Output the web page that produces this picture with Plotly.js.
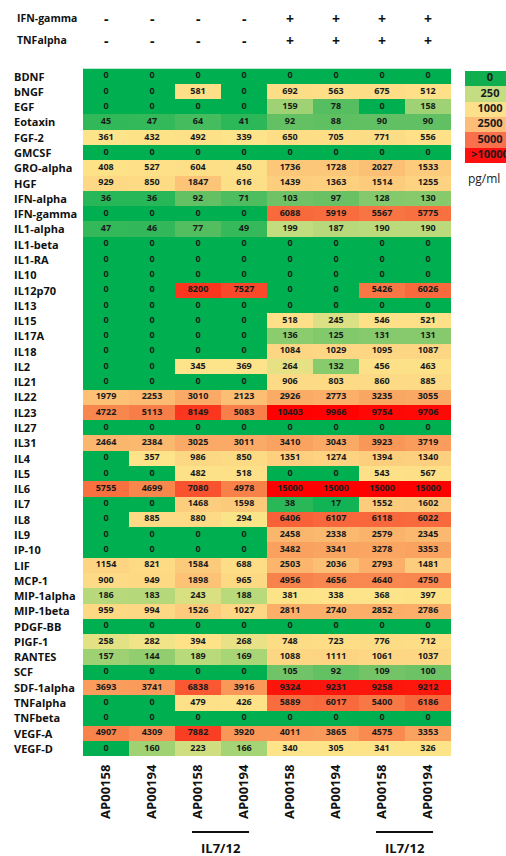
<!DOCTYPE html>
<html>
<head>
<meta charset="utf-8">
<script src="https://cdn.plot.ly/plotly-3.0.1.min.js"></script>
<style>html,body{margin:0;padding:0;background:#fff;}#chart{width:506px;height:856px;}</style>
</head>
<body>
<div id="chart"></div>
<script>
// Row (analyte) names, top to bottom
const analytes = ['BDNF','bNGF','EGF','Eotaxin','FGF-2','GMCSF','GRO-alpha','HGF','IFN-alpha','IFN-gamma',
  'IL1-alpha','IL1-beta','IL1-RA','IL10','IL12p70','IL13','IL15','IL17A','IL18','IL2','IL21','IL22','IL23',
  'IL27','IL31','IL4','IL5','IL6','IL7','IL8','IL9','IP-10','LIF','MCP-1','MIP-1alpha','MIP-1beta','PDGF-BB',
  'PIGF-1','RANTES','SCF','SDF-1alpha','TNFalpha','TNFbeta','VEGF-A','VEGF-D'];

// Column sample labels
const sampleLabels = ['AP00158','AP00194','AP00158','AP00194','AP00158','AP00194','AP00158','AP00194'];
const ifnGammaSigns = ['-','-','-','-','+','+','+','+'];
const tnfAlphaSigns = ['-','-','-','-','+','+','+','+'];
const groupLabel = 'IL7/12';
const groupColumns = [[2,3],[6,7]];

// Values (pg/ml), one array per column
const col1 = [0,0,0,45,361,0,408,929,36,0,47,0,0,0,0,0,0,0,0,0,0,1979,4722,0,2464,0,0,5755,0,0,0,0,1154,900,186,959,0,258,157,0,3693,0,0,4907,0];
const col2 = [0,0,0,47,432,0,527,850,36,0,46,0,0,0,0,0,0,0,0,0,0,2253,5113,0,2384,357,0,4699,0,885,0,0,821,949,183,994,0,282,144,0,3741,0,0,4309,160];
const col3 = [0,581,0,64,492,0,604,1847,92,0,77,0,0,0,8200,0,0,0,0,345,0,3010,8149,0,3025,986,482,7080,1468,880,0,0,1584,1898,243,1526,0,394,189,0,6838,479,0,7882,223];
const col4 = [0,0,0,41,339,0,450,616,71,0,49,0,0,0,7527,0,0,0,0,369,0,2123,5083,0,3011,850,518,4978,1598,294,0,0,688,965,188,1027,0,268,169,0,3916,426,0,3920,166];
const col5 = [0,692,159,92,650,0,1736,1439,103,6088,199,0,0,0,0,0,518,136,1084,264,906,2926,10403,0,3410,1351,0,15000,38,6406,2458,3482,2503,4956,381,2811,0,748,1088,105,9324,5889,0,4011,340];
const col6 = [0,563,78,88,705,0,1728,1363,97,5919,187,0,0,0,0,0,245,125,1029,132,803,2773,9966,0,3043,1274,0,15000,17,6107,2338,3341,2036,4656,338,2740,0,723,1111,92,9231,6017,0,3865,305];
const col7 = [0,675,0,90,771,0,2027,1514,128,5567,190,0,0,0,5426,0,546,131,1095,456,860,3235,9754,0,3923,1394,543,15000,1552,6118,2579,3278,2793,4640,368,2852,0,776,1061,109,9258,5400,0,4575,341];
const col8 = [0,512,158,90,556,0,1533,1255,130,5775,190,0,0,0,6026,0,521,131,1087,463,885,3055,9706,0,3719,1340,567,15000,1602,6022,2345,3353,1481,4750,397,2786,0,712,1037,100,9212,6186,0,3353,326];

// Legend
const legendLabels = ['0','250','1000','2500','5000','>10000'];
const legendUnit = 'pg/ml';

const cols = [col1,col2,col3,col4,col5,col6,col7,col8];
const z = analytes.map((_, r) => cols.map(c => c[r]));
const xIdx = sampleLabels.map((_, i) => i);
const yIdx = analytes.map((_, i) => i);

// flattened positions for cell value labels
const tx = [], ty = [], tt = [];
analytes.forEach((_, r) => cols.forEach((c, ci) => { tx.push(ci); ty.push(r); tt.push(String(c[r])); }));

const W = 506, H = 856;
const px = v => v / W;
const py = v => (H - v) / H;

const FONT = 'Open Sans, Noto Sans, sans-serif';

const colorscale = [
  [0, '#00b050'],
  [0.01, '#6cc265'],
  [0.02, '#c3dd7e'],
  [0.025, '#dde083'],
  [0.03, '#fde489'],
  [0.1, '#fdd884'],
  [0.25, '#fbb56d'],
  [0.5, '#f8814a'],
  [0.75, '#f9492a'],
  [1, '#ff0000']
];

const legendColors = ['#0fae4f','#c5dd82','#fde08a','#fbbd78','#f9704c','#ff1010'];
const legendScale = [];
legendColors.forEach((c, i) => {
  legendScale.push([i / legendColors.length, c]);
  legendScale.push([(i + 1) / legendColors.length, c]);
});
const legendIdx = legendLabels.map((_, i) => i);

const traces = [
  {
    type: 'heatmap',
    x: xIdx, y: yIdx, z: z,
    zmin: 0, zmax: 10000,
    colorscale: colorscale,
    showscale: false,
    hoverinfo: 'skip',
    xgap: 0, ygap: 0
  },
  {
    type: 'scatter', mode: 'text',
    x: tx, y: ty, text: tt,
    textposition: 'middle center',
    textfont: {family: FONT, size: 9, color: '#1a1a1a', weight: 'bold'},
    hoverinfo: 'skip', cliponaxis: false
  },
  {
    type: 'heatmap',
    xaxis: 'x2', yaxis: 'y2',
    x: [0], y: legendIdx,
    z: legendIdx.map(i => [i]),
    zmin: -0.5, zmax: legendLabels.length - 0.5,
    colorscale: legendScale,
    showscale: false,
    hoverinfo: 'skip'
  },
  {
    type: 'scatter', mode: 'text',
    xaxis: 'x2', yaxis: 'y2',
    x: legendIdx.map(() => 0), y: legendIdx, text: legendLabels,
    textposition: 'middle center',
    textfont: {family: FONT, size: 11, color: '#1a1a1a', weight: 'bold'},
    hoverinfo: 'skip', cliponaxis: true
  }
];

const annotations = [];
// Header rows
[['IFN-gamma', ifnGammaSigns, 18], ['TNFalpha', tnfAlphaSigns, 40]].forEach(([name, signs, yy]) => {
  annotations.push({xref: 'paper', yref: 'paper', x: px(15), y: py(yy), xanchor: 'left', yanchor: 'middle',
    text: name, showarrow: false, font: {family: FONT, size: 10.5, color: '#111', weight: 'bold'}});
  signs.forEach((s, i) => {
    annotations.push({xref: 'x', yref: 'paper', x: i, y: py(yy), xanchor: 'center', yanchor: 'middle',
      text: s, showarrow: false, font: {family: FONT, size: 14, color: '#111', weight: 'bold'}});
  });
});
// Row labels (left aligned)
analytes.forEach((a, i) => {
  annotations.push({xref: 'paper', yref: 'y', x: px(12), y: i, xanchor: 'left', yanchor: 'middle',
    text: a, showarrow: false, font: {family: FONT, size: 11, color: '#111', weight: 'bold'}});
});
// Group labels
groupColumns.forEach(g => {
  annotations.push({xref: 'x', yref: 'paper', x: (g[0] + g[1]) / 2, y: py(848), xanchor: 'center', yanchor: 'middle',
    text: groupLabel, showarrow: false, font: {family: FONT, size: 13, color: '#111', weight: 'bold'}});
});
// Unit
annotations.push({xref: 'paper', yref: 'paper', x: px(466), y: py(178), xanchor: 'left', yanchor: 'middle',
  text: legendUnit, showarrow: false, font: {family: FONT, size: 12, color: '#222'}});

const shapes = groupColumns.map(g => ({
  type: 'line', xref: 'x', yref: 'paper',
  x0: g[0] - 0.13, x1: g[1] + 0.11, y0: py(832), y1: py(832),
  line: {color: '#111', width: 2}
}));

const layout = {
  width: W, height: H,
  margin: {l: 0, r: 0, t: 0, b: 0},
  paper_bgcolor: '#fff', plot_bgcolor: '#fff',
  showlegend: false,
  xaxis: {
    domain: [px(83), px(451)],
    range: [-0.5, 7.5],
    tickvals: xIdx, ticktext: sampleLabels,
    tickangle: -90,
    tickfont: {family: FONT, size: 13, color: '#111', weight: 'bold'},
    ticks: '', showgrid: false, zeroline: false, showline: false,
    automargin: false, fixedrange: true, ticklabelstandoff: 5
  },
  yaxis: {
    domain: [py(756), py(68.5)],
    range: [analytes.length - 0.5, -0.5],
    showticklabels: false, ticks: '', showgrid: false, zeroline: false, showline: false,
    automargin: false, fixedrange: true
  },
  xaxis2: {
    domain: [px(465), 1], anchor: 'y2',
    range: [-0.5, -0.5 + 41 / 50],
    showticklabels: false, ticks: '', showgrid: false, zeroline: false, showline: false,
    automargin: false, fixedrange: true
  },
  yaxis2: {
    domain: [py(163), py(71)], anchor: 'x2',
    range: [legendLabels.length - 0.5, -0.5],
    showticklabels: false, ticks: '', showgrid: false, zeroline: false, showline: false,
    automargin: false, fixedrange: true
  },
  annotations: annotations,
  shapes: shapes
};

Plotly.newPlot('chart', traces, layout, {displayModeBar: false, staticPlot: true});
</script>
</body>
</html>
